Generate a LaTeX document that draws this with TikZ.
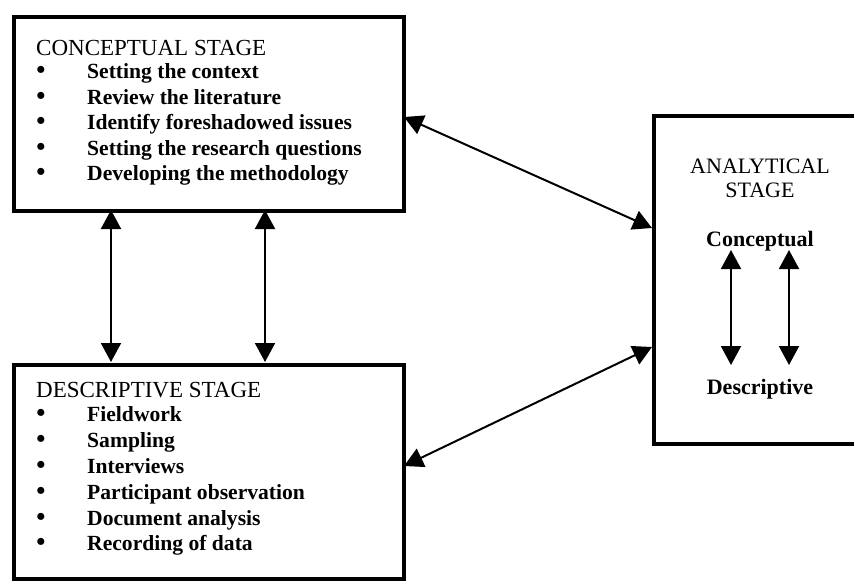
\documentclass[tikz,border=0pt]{standalone}
\usepackage{fontspec}
\setmainfont{Liberation Serif}
\usetikzlibrary{arrows.meta}
\begin{document}
\begin{tikzpicture}[x=1pt,y=-1pt,
  stagebox/.style={draw, line width=4pt, inner sep=0pt, anchor=north west},
  head/.style={anchor=base west, inner sep=0pt, font=\fontsize{23}{25}\selectfont},
  bul/.style={anchor=base, inner sep=0pt, font=\fontsize{26}{25}\selectfont\bfseries},
  item/.style={anchor=base west, inner sep=0pt, font=\fontsize{21.6}{25}\selectfont\bfseries},
  ctext/.style={anchor=base, inner sep=0pt, font=\fontsize{22}{25}\selectfont},
  link/.style={line width=2pt, {Triangle[width=20pt,length=19pt]}-{Triangle[width=20pt,length=19pt]}}
]
\useasboundingbox (0,0) rectangle (854,582);
\clip (0,0) rectangle (854,582);

% the three stage boxes
\node[stagebox, minimum width=390pt, minimum height=194pt] (conc) at (12,15) {};
\node[stagebox, minimum width=390pt, minimum height=214pt] (desc) at (12,363) {};
\node[stagebox, minimum width=240pt, minimum height=328pt] (anal) at (652,114) {};

% conceptual stage text
\node[head] (ch) at (36,55) {CONCEPTUAL STAGE};
\foreach \t [count=\i] in {Setting the context, Review the literature,
    Identify foreshadowed issues, Setting the research questions,
    Developing the methodology} {
  \node[bul] (cb\i) at (41,{53+25.5*\i}) {\textbullet};
  \node[item] (ci\i) at (87,{53+25.5*\i}) {\t};
}

% descriptive stage text
\node[head] (dh) at (36,397) {DESCRIPTIVE STAGE};
\foreach \t [count=\i] in {Fieldwork, Sampling, Interviews,
    Participant observation, Document analysis, Recording of data} {
  \node[bul] (db\i) at (41,{396+25.8*\i}) {\textbullet};
  \node[item] (di\i) at (87,{396+25.8*\i}) {\t};
}

% analytical stage text
\node[ctext] (ah1) at (760,173) {ANALYTICAL};
\node[ctext] (ah2) at (760,197) {STAGE};
\node[ctext, font=\fontsize{22}{25}\selectfont\bfseries] (acon) at (760,246) {Conceptual};
\node[ctext, font=\fontsize{22}{25}\selectfont\bfseries] (ades) at (760,394) {Descriptive};

% arrow end points
\coordinate (v1a) at (111,210);
\coordinate (v1b) at (111,362);
\coordinate (v2a) at (265,210);
\coordinate (v2b) at (265,362);
\coordinate (u1) at (404,117);
\coordinate (u2) at (652,228);
\coordinate (l1) at (404,466);
\coordinate (l2) at (652,347);
\coordinate (w1a) at (731,250);
\coordinate (w1b) at (731,365);
\coordinate (w2a) at (789,250);
\coordinate (w2b) at (789,365);

% connectors
\draw[link] (v1a) -- (v1b);
\draw[link] (v2a) -- (v2b);
\draw[link] (u1) -- (u2);
\draw[link] (l1) -- (l2);
\draw[link] (w1a) -- (w1b);
\draw[link] (w2a) -- (w2b);
\end{tikzpicture}
\end{document}
